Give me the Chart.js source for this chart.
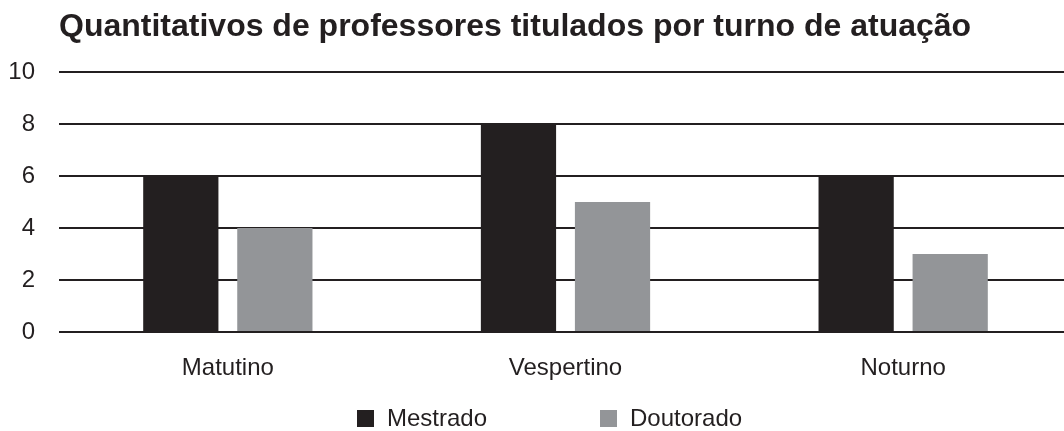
<!DOCTYPE html>
<html>
<head>
<meta charset="utf-8">
<script src="https://cdn.jsdelivr.net/npm/chart.js@4"></script>
<style>
  html, body { margin: 0; padding: 0; background: #fff; overflow: hidden; }
  #wrap { position: relative; width: 1072px; height: 431px; }
  #legend { position: absolute; top: 404px; left: 0; font-family: "Liberation Sans", Arial, sans-serif; font-size: 24px; color: #231f20; }
  #legend span.item { position: absolute; white-space: nowrap; }
  #legend span.box { display: inline-block; width: 17px; height: 17px; margin-right: 13px; vertical-align: -1px; }
</style>
</head>
<body>
<div id="wrap">
  <canvas id="chart"></canvas>
  <div id="legend"></div>
</div>
<script>
const categories = ["Matutino", "Vespertino", "Noturno"];
const mestrado = [6, 8, 6];
const doutorado = [4, 5, 3];
const yTicks = [0, 2, 4, 6, 8, 10];

const dark = "#231f20";
const gray = "#939598";

Chart.defaults.font.family = '"Liberation Sans", Arial, sans-serif';
Chart.defaults.color = dark;

const ctx = document.getElementById("chart");

const chart = new Chart(ctx, {
  type: "bar",
  data: {
    labels: categories,
    datasets: [
      { label: "Mestrado", data: mestrado, backgroundColor: dark },
      { label: "Doutorado", data: doutorado, backgroundColor: gray }
    ]
  },
  options: {
    responsive: true,
    maintainAspectRatio: false,
    animation: false,
    datasets: {
      bar: { categoryPercentage: 0.557, barPercentage: 0.8 }
    },
    layout: { padding: { left: 8, right: 0, top: 0, bottom: 39 } },
    plugins: {
      legend: { display: false },
      tooltip: { enabled: false },
      title: {
        display: true,
        text: "Quantitativos de professores titulados por turno de atuação",
        align: "start",
        fullSize: false,
        color: dark,
        font: { size: 32, weight: "bold" },
        padding: { top: 8, bottom: 25.6 }
      }
    },
    scales: {
      x: {
        grid: { display: false },
        border: { display: false },
        ticks: { font: { size: 24 }, color: dark, padding: 14 },
        afterFit: (axis) => { axis.height = 60; }
      },
      y: {
        min: 0,
        max: 10,
        afterBuildTicks: (axis) => { axis.ticks = yTicks.map(v => ({ value: v })); },
        grid: { color: dark, lineWidth: 2, drawTicks: false },
        border: { display: false },
        ticks: { font: { size: 24 }, color: dark, padding: 24 },
        afterFit: (axis) => { axis.width = 51; }
      }
    }
  }
});

// legend below the chart, same layout as the original
const legendX = [357, 600];
const legend = document.getElementById("legend");
chart.data.datasets.forEach((ds, i) => {
  const item = document.createElement("span");
  item.className = "item";
  item.style.left = legendX[i] + "px";
  item.innerHTML = `<span class="box" style="background:${ds.backgroundColor}"></span>${ds.label}`;
  legend.appendChild(item);
});
</script>
</body>
</html>
